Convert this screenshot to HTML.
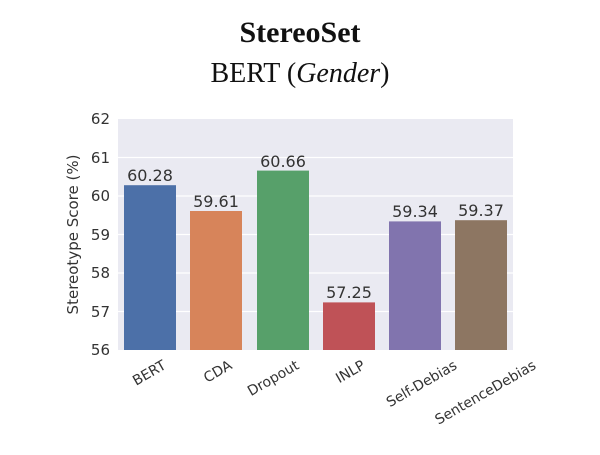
<!DOCTYPE html>
<html><head><style>body{margin:0;background:#fff}</style></head><body>
<svg width="600" height="450" xmlns="http://www.w3.org/2000/svg">
<text x="300" y="42" text-anchor="middle" font-family="Liberation Serif, serif" font-weight="bold" font-size="30" fill="#111">StereoSet</text>
<text x="300" y="82" text-anchor="middle" font-family="Liberation Serif, serif" font-size="28" fill="#111">BERT (<tspan font-style="italic">Gender</tspan>)</text>
<rect x="118" y="119" width="395" height="231" fill="#eaeaf2"/>
<g stroke="#fff" stroke-width="1.2">
<line x1="118" x2="513" y1="157.5" y2="157.5"/><line x1="118" x2="513" y1="196" y2="196"/>
<line x1="118" x2="513" y1="234.5" y2="234.5"/><line x1="118" x2="513" y1="273" y2="273"/>
<line x1="118" x2="513" y1="311.5" y2="311.5"/></g>
<g font-family="DejaVu Sans, sans-serif" font-size="15" fill="#333" text-anchor="end">
<text x="110" y="124">62</text><text x="110" y="163">61</text><text x="110" y="201">60</text>
<text x="110" y="240">59</text><text x="110" y="278">58</text><text x="110" y="317">57</text><text x="110" y="355">56</text></g>
<text transform="translate(78,234.5) rotate(-90)" text-anchor="middle" font-family="DejaVu Sans, sans-serif" font-size="15" fill="#333">Stereotype Score (%)</text>
<rect x="124" y="185.2" width="52" height="164.8" fill="#4c70a8"/>
<rect x="190" y="211" width="52" height="139" fill="#d7845a"/>
<rect x="257" y="170.6" width="52" height="179.4" fill="#57a06a"/>
<rect x="323" y="302.4" width="52" height="47.6" fill="#bf5257"/>
<rect x="389" y="221.4" width="52" height="128.6" fill="#8174ae"/>
<rect x="455" y="220.2" width="52" height="129.8" fill="#8d7662"/>
<g font-family="DejaVu Sans, sans-serif" font-size="16" fill="#333" text-anchor="middle">
<text x="150" y="181">60.28</text><text x="216" y="207">59.61</text><text x="283" y="167">60.66</text>
<text x="349" y="298">57.25</text><text x="415" y="217">59.34</text><text x="481" y="216">59.37</text></g>
<g font-family="DejaVu Sans, sans-serif" font-size="14" fill="#333" text-anchor="end">
<text transform="translate(167,368) rotate(-30)">BERT</text>
<text transform="translate(233,368) rotate(-30)">CDA</text>
<text transform="translate(300,368) rotate(-30)">Dropout</text>
<text transform="translate(366,368) rotate(-30)">INLP</text>
<text transform="translate(458,368) rotate(-30)">Self-Debias</text>
<text transform="translate(537,368) rotate(-30)">SentenceDebias</text></g>
</svg>
</body></html>
